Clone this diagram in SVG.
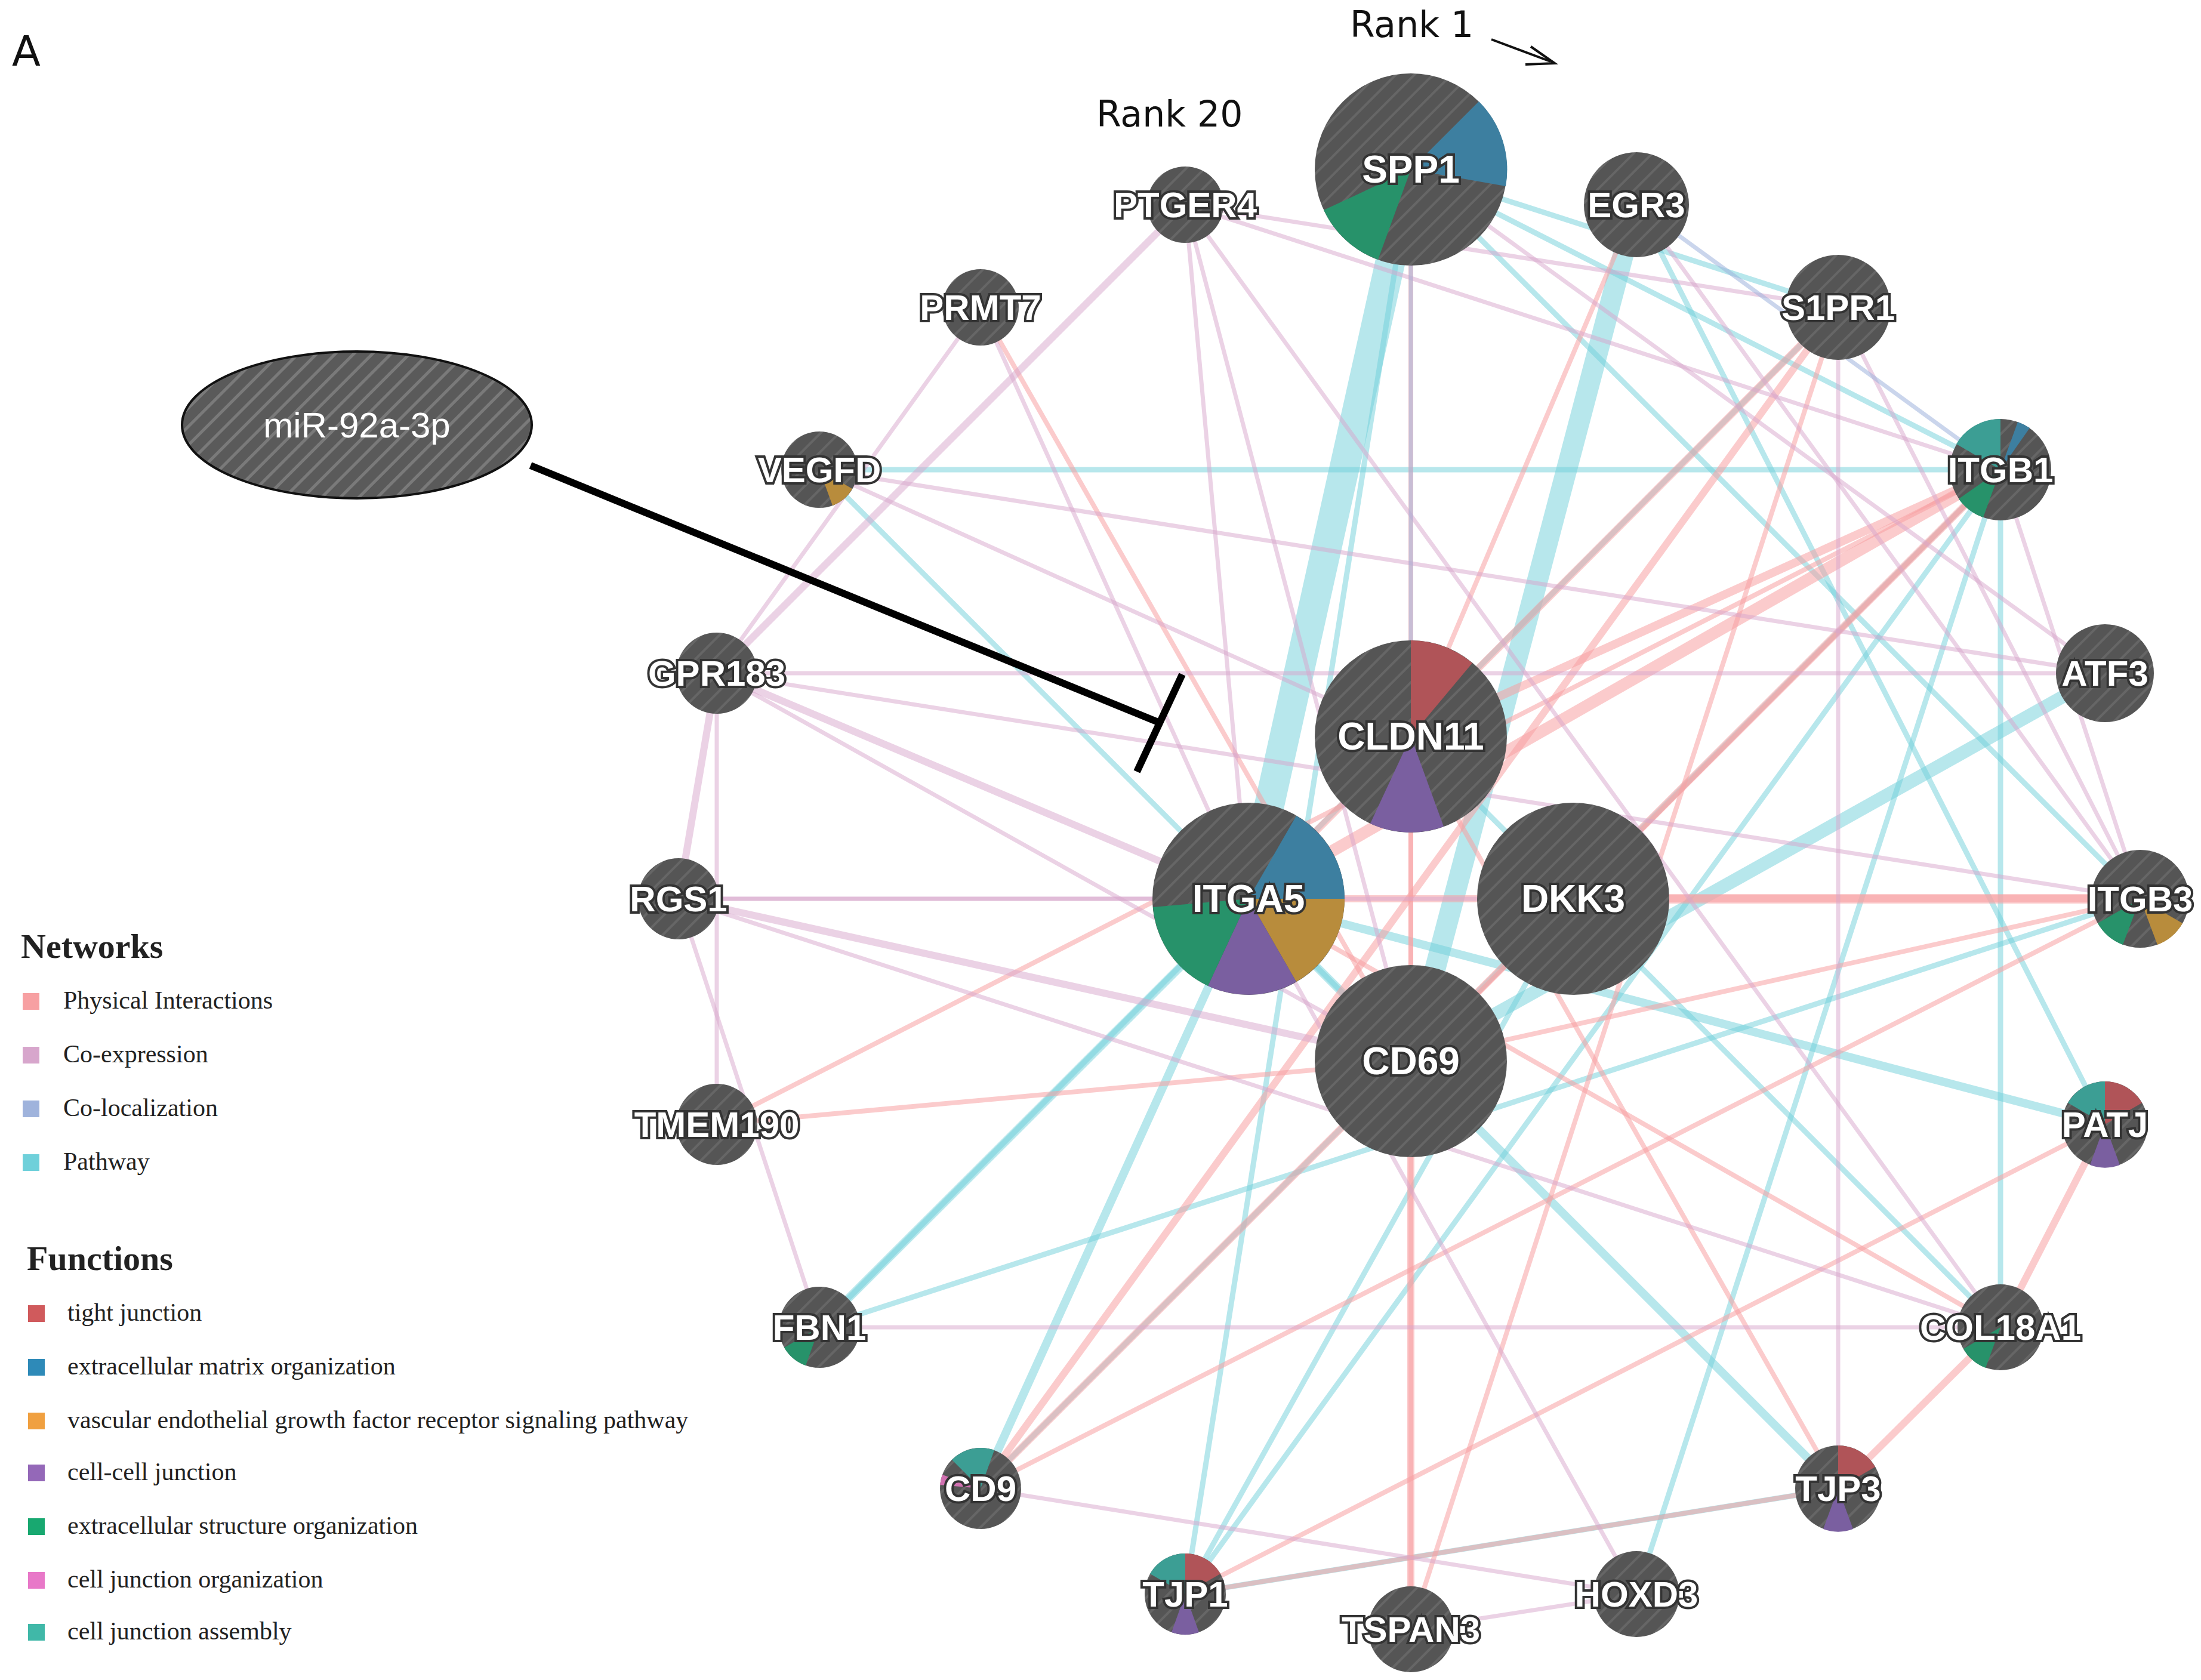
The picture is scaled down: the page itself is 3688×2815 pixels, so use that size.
<svg xmlns="http://www.w3.org/2000/svg" width="3688" height="2815" viewBox="0 0 3688 2815">
<defs>
<pattern id="h" width="22" height="22" patternUnits="userSpaceOnUse" patternTransform="rotate(45)">
<rect width="22" height="22" fill="#555"/><rect width="4" height="22" fill="#666"/>
</pattern>
<pattern id="h2" width="22" height="22" patternUnits="userSpaceOnUse" patternTransform="rotate(45)">
<rect width="22" height="22" fill="#5a5a5a"/><rect width="5" height="22" fill="#7a7a7a"/>
</pattern>
</defs>
<style>
.p{stroke:#f7a0a2;stroke-opacity:.55;stroke-width:8}
.c{stroke:#d7a6cc;stroke-opacity:.5;stroke-width:7}
.l{stroke:#9fb3dc;stroke-opacity:.55;stroke-width:7}
.w{stroke:#6fd0da;stroke-opacity:.5;stroke-width:9}
.n{fill:url(#h)}
.t{font-family:"Liberation Sans",Arial,sans-serif;font-weight:bold;fill:#fff;stroke:#333;stroke-width:8;paint-order:stroke;text-anchor:middle;dominant-baseline:central}
.lg{font-family:"Liberation Serif","Times New Roman",serif;font-size:42px;fill:#222}
.lh{font-family:"Liberation Serif","Times New Roman",serif;font-size:58px;font-weight:bold;fill:#222}
.r{font-family:"DejaVu Sans",sans-serif;font-size:60px;fill:#111}
</style>
<rect width="3688" height="2815" fill="#fff"/>
<g id="connectors" fill="none">
<line class="w" x1="2364" y1="284" x2="2092" y2="1506" style="stroke-width:50"/>
<line class="w" x1="2742" y1="343" x2="2364" y2="1778" style="stroke-width:35"/>
<line class="w" x1="3527" y1="1128" x2="2364" y2="1778" style="stroke-width:22"/>
<line class="w" x1="2364" y1="284" x2="3352" y2="787"/>
<line class="w" x1="2364" y1="284" x2="3080" y2="515"/>
<line class="w" x1="2364" y1="284" x2="3586" y2="1506"/>
<line class="w" x1="1373" y1="787" x2="3352" y2="787"/>
<line class="w" x1="1373" y1="787" x2="2364" y2="1778"/>
<line class="w" x1="2092" y1="1506" x2="1373" y2="2224" style="stroke-width:14"/>
<line class="w" x1="2092" y1="1506" x2="1643" y2="2494" style="stroke-width:14"/>
<line class="w" x1="3352" y1="787" x2="1643" y2="2494"/>
<line class="w" x1="3352" y1="787" x2="1986" y2="2671"/>
<line class="w" x1="3352" y1="787" x2="2742" y2="2671"/>
<line class="w" x1="3586" y1="1506" x2="1373" y2="2224"/>
<line class="w" x1="2092" y1="1506" x2="3527" y2="1884" style="stroke-width:14"/>
<line class="w" x1="2364" y1="1234" x2="3352" y2="2224"/>
<line class="w" x1="3352" y1="787" x2="3352" y2="2224"/>
<line class="w" x1="3080" y1="515" x2="1373" y2="2224"/>
<line class="w" x1="2742" y1="343" x2="3527" y2="1884"/>
<line class="w" x1="2636" y1="1506" x2="1986" y2="2671"/>
<line class="w" x1="2092" y1="1506" x2="3080" y2="2494" style="stroke-width:14"/>
<line class="w" x1="2364" y1="284" x2="1986" y2="2671"/>
<line class="w" x1="3080" y1="2494" x2="1986" y2="2671"/>
<line class="p" x1="3352" y1="787" x2="2092" y2="1506" style="stroke-width:20"/>
<line class="p" x1="3352" y1="787" x2="2364" y2="1234" style="stroke-width:14"/>
<line class="p" x1="3352" y1="787" x2="2364" y2="1778"/>
<line class="p" x1="3352" y1="787" x2="1643" y2="2494" style="stroke-width:12"/>
<line class="p" x1="3080" y1="515" x2="1643" y2="2494" style="stroke-width:12"/>
<line class="p" x1="3080" y1="515" x2="2092" y2="1506" style="stroke-width:12"/>
<line class="p" x1="3586" y1="1506" x2="2092" y2="1506" style="stroke-width:12"/>
<line class="p" x1="3586" y1="1506" x2="2636" y2="1506" style="stroke-width:16"/>
<line class="p" x1="3586" y1="1506" x2="2364" y2="1778"/>
<line class="p" x1="1201" y1="1884" x2="2364" y2="1778"/>
<line class="p" x1="1201" y1="1884" x2="3352" y2="787"/>
<line class="p" x1="2364" y1="1778" x2="2364" y2="2730" style="stroke-width:12"/>
<line class="p" x1="2364" y1="1234" x2="2364" y2="2730"/>
<line class="p" x1="1643" y1="515" x2="2364" y2="1778"/>
<line class="p" x1="2742" y1="343" x2="2364" y2="1234"/>
<line class="p" x1="2092" y1="1506" x2="3352" y2="2224"/>
<line class="p" x1="1986" y1="2671" x2="3080" y2="2494"/>
<line class="p" x1="1986" y1="2671" x2="3527" y2="1884"/>
<line class="p" x1="3080" y1="2494" x2="3352" y2="2224" style="stroke-width:12"/>
<line class="p" x1="3527" y1="1884" x2="3352" y2="2224" style="stroke-width:12"/>
<line class="p" x1="1643" y1="2494" x2="3586" y2="1506"/>
<line class="p" x1="3080" y1="2494" x2="2364" y2="1234"/>
<line class="p" x1="2364" y1="284" x2="2364" y2="1778"/>
<line class="p" x1="3080" y1="515" x2="2364" y2="2730"/>
<line class="c" x1="1986" y1="343" x2="1201" y2="1128" style="stroke-width:12"/>
<line class="c" x1="1643" y1="515" x2="1201" y2="1128"/>
<line class="c" x1="1201" y1="1128" x2="1137" y2="1506" style="stroke-width:12"/>
<line class="c" x1="1137" y1="1506" x2="2364" y2="1778" style="stroke-width:12"/>
<line class="c" x1="1137" y1="1506" x2="2092" y2="1506"/>
<line class="c" x1="1201" y1="1128" x2="2092" y2="1506" style="stroke-width:12"/>
<line class="c" x1="1201" y1="1128" x2="2364" y2="1778"/>
<line class="c" x1="1137" y1="1506" x2="2636" y2="1506"/>
<line class="c" x1="1986" y1="343" x2="2364" y2="1778"/>
<line class="c" x1="1986" y1="343" x2="2092" y2="1506"/>
<line class="c" x1="1986" y1="343" x2="3080" y2="515"/>
<line class="c" x1="1986" y1="343" x2="3352" y2="2224"/>
<line class="c" x1="1201" y1="1128" x2="3527" y2="1128"/>
<line class="c" x1="1373" y1="787" x2="3527" y2="1128"/>
<line class="c" x1="1373" y1="2224" x2="3352" y2="2224"/>
<line class="c" x1="1643" y1="2494" x2="2742" y2="2671"/>
<line class="c" x1="1137" y1="1506" x2="1373" y2="2224"/>
<line class="c" x1="1201" y1="1884" x2="1201" y2="1128"/>
<line class="c" x1="1643" y1="515" x2="2092" y2="1506"/>
<line class="c" x1="2364" y1="284" x2="3527" y2="1128"/>
<line class="c" x1="2742" y1="343" x2="3586" y2="1506"/>
<line class="c" x1="3080" y1="515" x2="3080" y2="2494"/>
<line class="c" x1="2742" y1="2671" x2="2364" y2="2730"/>
<line class="c" x1="3352" y1="787" x2="3586" y2="1506"/>
<line class="c" x1="3080" y1="515" x2="3586" y2="1506"/>
<line class="c" x1="2092" y1="1506" x2="2742" y2="2671"/>
<line class="c" x1="1201" y1="1128" x2="3586" y2="1506"/>
<line class="c" x1="1373" y1="787" x2="2364" y2="1234"/>
<line class="c" x1="1986" y1="343" x2="3352" y2="787"/>
<line class="c" x1="1137" y1="1506" x2="3352" y2="2224"/>
<line class="l" x1="2364" y1="284" x2="2364" y2="1234"/>
<line class="l" x1="2742" y1="343" x2="3352" y2="787"/>
</g>
<g id="inhibit" stroke="#000" stroke-width="12" fill="none">
<line x1="889" y1="780" x2="1943" y2="1211"/>
<line x1="1981" y1="1130" x2="1905" y2="1293"/>
</g>
<g id="miR-92a-3p"><ellipse cx="598" cy="712" rx="293" ry="123" fill="url(#h2)" stroke="#111" stroke-width="4"/>
<text x="598" y="712" font-family="Liberation Sans,Arial,sans-serif" font-size="60" fill="#fff" text-anchor="middle" dominant-baseline="central">miR-92a-3p</text></g>
<g id="SPP1" transform="translate(2364,284)"><circle r="161" class="n"/><path d="M0,0L114,-114A161,161 0 0 1 159,28Z" fill="#3d7fa0"/><path d="M0,0L-55,151A161,161 0 0 1 -146,68Z" fill="#27926a"/><text class="t" font-size="64">SPP1</text></g>
<g id="CLDN11" transform="translate(2364,1234)"><circle r="161" class="n"/><path d="M0,0L0,-161A161,161 0 0 1 103,-123Z" fill="#b05458"/><path d="M0,0L55,151A161,161 0 0 1 -68,146Z" fill="#7a5fa0"/><text class="t" font-size="64">CLDN11</text></g>
<g id="ITGA5" transform="translate(2092,1506)"><circle r="161" class="n"/><path d="M0,0L80,-139A161,161 0 0 1 161,0Z" fill="#3d7fa0"/><path d="M0,0L161,0A161,161 0 0 1 80,139Z" fill="#b88c3c"/><path d="M0,0L80,139A161,161 0 0 1 -68,146Z" fill="#7a5fa0"/><path d="M0,0L-68,146A161,161 0 0 1 -160,14Z" fill="#27926a"/><text class="t" font-size="64">ITGA5</text></g>
<g id="DKK3" transform="translate(2636,1506)"><circle r="161" class="n"/><text class="t" font-size="64">DKK3</text></g>
<g id="CD69" transform="translate(2364,1778)"><circle r="161" class="n"/><text class="t" font-size="64">CD69</text></g>
<g id="EGR3" transform="translate(2742,343)"><circle r="88" class="n"/><text class="t" font-size="60">EGR3</text></g>
<g id="S1PR1" transform="translate(3080,515)"><circle r="88" class="n"/><text class="t" font-size="60">S1PR1</text></g>
<g id="ITGB1" transform="translate(3352,787)"><circle r="85" class="n"/><path d="M0,0L-74,-43A85,85 0 0 1 0,-85Z" fill="#3c9e94"/><path d="M0,0L29,-80A85,85 0 0 1 49,-70Z" fill="#3d7fa0"/><path d="M0,0L-29,80A85,85 0 0 1 -70,49Z" fill="#27926a"/><text class="t" font-size="60">ITGB1</text></g>
<g id="ATF3" transform="translate(3527,1128)"><circle r="82" class="n"/><text class="t" font-size="60">ATF3</text></g>
<g id="ITGB3" transform="translate(3586,1506)"><circle r="82" class="n"/><path d="M0,0L-29,77A82,82 0 0 1 -71,41Z" fill="#27926a"/><path d="M0,0L71,41A82,82 0 0 1 29,77Z" fill="#b88c3c"/><text class="t" font-size="60">ITGB3</text></g>
<g id="PATJ" transform="translate(3527,1884)"><circle r="72" class="n"/><path d="M0,0L0,-72A72,72 0 0 1 62,-36Z" fill="#b05458"/><path d="M0,0L-62,-36A72,72 0 0 1 0,-72Z" fill="#3c9e94"/><path d="M0,0L25,68A72,72 0 0 1 -25,68Z" fill="#7a5fa0"/><text class="t" font-size="60">PATJ</text></g>
<g id="COL18A1" transform="translate(3352,2224)"><circle r="72" class="n"/><path d="M0,0L-25,68A72,72 0 0 1 -62,36Z" fill="#27926a"/><text class="t" font-size="60">COL18A1</text></g>
<g id="TJP3" transform="translate(3080,2494)"><circle r="72" class="n"/><path d="M0,0L0,-72A72,72 0 0 1 62,-36Z" fill="#b05458"/><path d="M0,0L25,68A72,72 0 0 1 -25,68Z" fill="#7a5fa0"/><text class="t" font-size="60">TJP3</text></g>
<g id="HOXD3" transform="translate(2742,2671)"><circle r="72" class="n"/><text class="t" font-size="60">HOXD3</text></g>
<g id="TSPAN3" transform="translate(2364,2730)"><circle r="72" class="n"/><text class="t" font-size="60">TSPAN3</text></g>
<g id="TJP1" transform="translate(1986,2671)"><circle r="68" class="n"/><path d="M0,0L0,-68A68,68 0 0 1 59,-34Z" fill="#b05458"/><path d="M0,0L-59,-34A68,68 0 0 1 0,-68Z" fill="#3c9e94"/><path d="M0,0L23,64A68,68 0 0 1 -23,64Z" fill="#7a5fa0"/><text class="t" font-size="60">TJP1</text></g>
<g id="CD9" transform="translate(1643,2494)"><circle r="68" class="n"/><path d="M0,0L-48,-48A68,68 0 0 1 23,-64Z" fill="#3c9e94"/><path d="M0,0L-68,-6A68,68 0 0 1 -64,-23Z" fill="#d070b0"/><text class="t" font-size="60">CD9</text></g>
<g id="FBN1" transform="translate(1373,2224)"><circle r="68" class="n"/><path d="M0,0L-23,64A68,68 0 0 1 -59,34Z" fill="#27926a"/><text class="t" font-size="60">FBN1</text></g>
<g id="TMEM190" transform="translate(1201,1884)"><circle r="68" class="n"/><text class="t" font-size="60">TMEM190</text></g>
<g id="RGS1" transform="translate(1137,1506)"><circle r="68" class="n"/><text class="t" font-size="60">RGS1</text></g>
<g id="GPR183" transform="translate(1201,1128)"><circle r="68" class="n"/><text class="t" font-size="60">GPR183</text></g>
<g id="VEGFD" transform="translate(1373,787)"><circle r="64" class="n"/><path d="M0,0L55,32A64,64 0 0 1 22,60Z" fill="#b88c3c"/><text class="t" font-size="60">VEGFD</text></g>
<g id="PRMT7" transform="translate(1643,515)"><circle r="64" class="n"/><text class="t" font-size="60">PRMT7</text></g>
<g id="PTGER4" transform="translate(1986,343)"><circle r="64" class="n"/><text class="t" font-size="60">PTGER4</text></g>
<g id="annotations">
<text x="20" y="110" font-family="DejaVu Sans,sans-serif" font-size="70" fill="#111">A</text>
<text x="2262" y="62" class="r">Rank 1</text>
<line x1="2499" y1="66" x2="2598" y2="103" stroke="#111" stroke-width="4"/>
<path d="M2565,78L2605,106L2556,108" fill="none" stroke="#111" stroke-width="4"/>
<text x="1837" y="212" class="r">Rank 20</text>
</g>
<g id="legend">
<text x="35" y="1605" class="lh">Networks</text>
<rect x="38" y="1664" width="28" height="28" fill="#f7a0a2"/><text x="106" y="1690" class="lg">Physical Interactions</text>
<rect x="38" y="1754" width="28" height="28" fill="#d7a6cc"/><text x="106" y="1780" class="lg">Co-expression</text>
<rect x="38" y="1844" width="28" height="28" fill="#9fb3dc"/><text x="106" y="1870" class="lg">Co-localization</text>
<rect x="38" y="1934" width="28" height="28" fill="#6fd0da"/><text x="106" y="1960" class="lg">Pathway</text>
<text x="45" y="2128" class="lh">Functions</text>
<rect x="47" y="2187" width="28" height="28" fill="#d05a5c"/><text x="113" y="2213" class="lg">tight junction</text>
<rect x="47" y="2277" width="28" height="28" fill="#2e8ab8"/><text x="113" y="2303" class="lg">extracellular matrix organization</text>
<rect x="47" y="2367" width="28" height="28" fill="#f0a040"/><text x="113" y="2393" class="lg">vascular endothelial growth factor receptor signaling pathway</text>
<rect x="47" y="2454" width="28" height="28" fill="#9468b8"/><text x="113" y="2480" class="lg">cell-cell junction</text>
<rect x="47" y="2544" width="28" height="28" fill="#18a870"/><text x="113" y="2570" class="lg">extracellular structure organization</text>
<rect x="47" y="2634" width="28" height="28" fill="#e878c8"/><text x="113" y="2660" class="lg">cell junction organization</text>
<rect x="47" y="2721" width="28" height="28" fill="#40b8a8"/><text x="113" y="2747" class="lg">cell junction assembly</text>
</g>
</svg>
